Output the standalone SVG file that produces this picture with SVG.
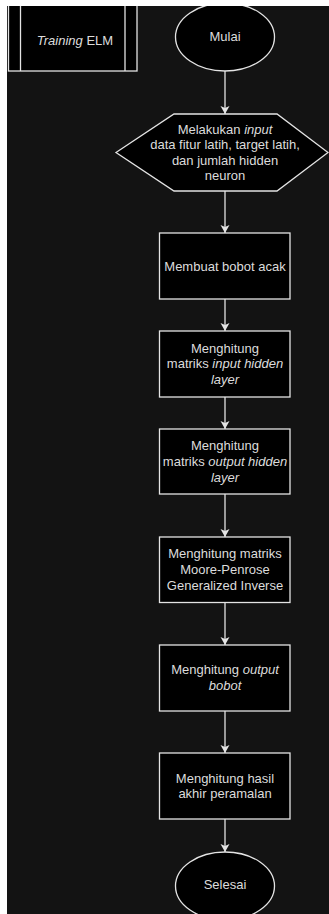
<svg xmlns="http://www.w3.org/2000/svg" width="329" height="914" viewBox="0 0 329 914">
  <style>
    .shape { fill: #000000; stroke: #e4e4e4; stroke-width: 1.3; }
    .inner { stroke: #e4e4e4; stroke-width: 1.3; fill: none; }
    .conn { stroke: #e4e4e4; stroke-width: 1.3; fill: none; }
    text { font-family: "Liberation Sans", Arial, Helvetica, sans-serif; font-size: 13px; fill: #dcdcdc; text-anchor: middle; }
    .it { font-style: italic; }
  </style>
  <defs>
    <marker id="arrow" markerUnits="userSpaceOnUse" markerWidth="9" markerHeight="10" refX="8" refY="4.5" orient="auto">
      <path d="M0,0 L8,4.5 L0,9 L2,4.5 Z" fill="#e4e4e4"/>
    </marker>
  </defs>

  <rect x="0" y="0" width="329" height="914" fill="#131313"/>

  <g id="training-elm">
    <rect class="shape" x="8.5" y="0" width="128.5" height="71"/>
    <line class="inner" x1="20.5" y1="0" x2="20.5" y2="71"/>
    <line class="inner" x1="125" y1="0" x2="125" y2="71"/>
    <text x="75" y="44.5"><tspan class="it">Training</tspan> ELM</text>
  </g>

  <g id="mulai">
    <ellipse class="shape" cx="225" cy="37" rx="49.5" ry="34"/>
    <text x="225" y="40.5">Mulai</text>
  </g>

  <g id="input-data">
    <polygon class="shape" points="116,152.5 174,114 277,114 328,152.5 277,191 174,191"/>
    <text x="225" y="133.5">Melakukan <tspan class="it">input</tspan></text>
    <text x="225" y="149.1">data fitur latih, target latih,</text>
    <text x="225" y="164.7">dan jumlah hidden</text>
    <text x="225" y="180.3">neuron</text>
  </g>

  <g id="bobot-acak">
    <rect class="shape" x="159.5" y="233" width="130.5" height="66"/>
    <text x="225" y="270.5">Membuat bobot acak</text>
  </g>

  <g id="input-hidden">
    <rect class="shape" x="159.5" y="331" width="130.5" height="66"/>
    <text x="225" y="352.8">Menghitung</text>
    <text x="225" y="368.4">matriks <tspan class="it">input hidden</tspan></text>
    <text x="225" y="384" class="it">layer</text>
  </g>

  <g id="output-hidden">
    <rect class="shape" x="159.5" y="429" width="130.5" height="65"/>
    <text x="225" y="450.3">Menghitung</text>
    <text x="225" y="465.9">matriks <tspan class="it">output hidden</tspan></text>
    <text x="225" y="481.5" class="it">layer</text>
  </g>

  <g id="moore-penrose">
    <rect class="shape" x="159.5" y="537" width="130.5" height="65.5"/>
    <text x="225" y="558.4">Menghitung matriks</text>
    <text x="225" y="574">Moore-Penrose</text>
    <text x="225" y="589.6">Generalized Inverse</text>
  </g>

  <g id="output-bobot">
    <rect class="shape" x="159.5" y="645" width="130.5" height="66"/>
    <text x="225" y="674.2">Menghitung <tspan class="it">output</tspan></text>
    <text x="225" y="689.8" class="it">bobot</text>
  </g>

  <g id="hasil-akhir">
    <rect class="shape" x="159.5" y="753" width="130.5" height="66"/>
    <text x="225" y="782.7">Menghitung hasil</text>
    <text x="225" y="798.3">akhir peramalan</text>
  </g>

  <g id="selesai">
    <ellipse class="shape" cx="225" cy="886" rx="49.5" ry="34"/>
    <text x="225" y="888.5">Selesai</text>
  </g>

  <g id="connectors">
    <line class="conn" x1="225" y1="71" x2="225" y2="114" marker-end="url(#arrow)"/>
    <line class="conn" x1="225" y1="191" x2="225" y2="233" marker-end="url(#arrow)"/>
    <line class="conn" x1="225" y1="299" x2="225" y2="331" marker-end="url(#arrow)"/>
    <line class="conn" x1="225" y1="397" x2="225" y2="429" marker-end="url(#arrow)"/>
    <line class="conn" x1="225" y1="494" x2="225" y2="537" marker-end="url(#arrow)"/>
    <line class="conn" x1="225" y1="602.5" x2="225" y2="645" marker-end="url(#arrow)"/>
    <line class="conn" x1="225" y1="711" x2="225" y2="753" marker-end="url(#arrow)"/>
    <line class="conn" x1="225" y1="819" x2="225" y2="852" marker-end="url(#arrow)"/>
  </g>

  <rect x="0" y="0" width="329" height="6" fill="#ffffff"/>
  <rect x="0" y="0" width="7" height="914" fill="#ffffff"/>
</svg>
